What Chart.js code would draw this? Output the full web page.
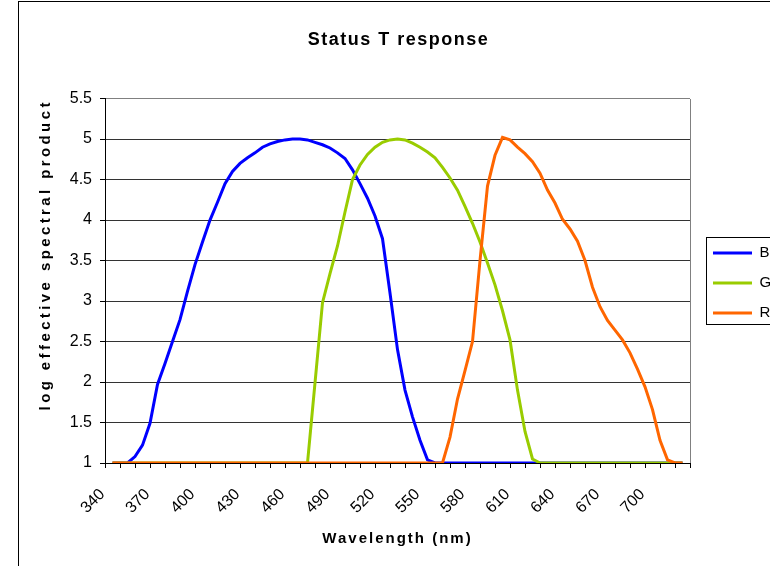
<!DOCTYPE html>
<html>
<head>
<meta charset="utf-8">
<script src="https://cdn.jsdelivr.net/npm/chart.js@4.4.1/dist/chart.umd.min.js"></script>
<style>
  html, body { margin: 0; padding: 0; background: #fff; }
  #wrap { position: relative; width: 770px; height: 566px; overflow: hidden; }
  #frame { position: absolute; left: 18px; top: 1px; width: 900px; height: 900px; border: 1px solid #000; }
  canvas { position: absolute; left: 0; top: 0; }
</style>
</head>
<body>
<div id="wrap">
  <div id="frame"></div>
  <canvas id="statusChart" width="770" height="566"></canvas>
</div>
<script>
// wavelength in nm, one point every 5 nm
const wavelengths = [340, 345, 350, 355, 360, 365, 370, 375, 380, 385, 390, 395, 400, 405, 410, 415, 420, 425, 430, 435,
  440, 445, 450, 455, 460, 465, 470, 475, 480, 485, 490, 495, 500, 505, 510, 515, 520, 525, 530, 535,
  540, 545, 550, 555, 560, 565, 570, 575, 580, 585, 590, 595, 600, 605, 610, 615, 620, 625, 630, 635,
  640, 645, 650, 655, 660, 665, 670, 675, 680, 685, 690, 695, 700, 705, 710, 715, 720];

const blueValues = [1, 1, 1, 1.08, 1.22, 1.49, 1.97, 2.23, 2.5, 2.77, 3.12, 3.45, 3.73, 4.0, 4.22, 4.45, 4.6, 4.7, 4.77, 4.83,
  4.9, 4.94, 4.97, 4.99, 5.0, 5.0, 4.99, 4.96, 4.93, 4.89, 4.83, 4.76, 4.62, 4.45, 4.27, 4.05, 3.77, 3.1, 2.4, 1.9,
  1.57, 1.28, 1.04, 1, 1, 1, 1, 1, 1, 1, 1, 1, 1, 1, 1, 1, 1, 1, 1, 1,
  1, 1, 1, 1, 1, 1, 1, 1, 1, 1, 1, 1, 1, 1, 1, 1, 1];

const greenValues = [1, 1, 1, 1, 1, 1, 1, 1, 1, 1, 1, 1, 1, 1, 1, 1, 1, 1, 1, 1,
  1, 1, 1, 1, 1, 1, 1, 1.99, 2.98, 3.34, 3.68, 4.1, 4.5, 4.68, 4.81, 4.9, 4.96, 4.99, 5.0, 4.99,
  4.95, 4.9, 4.84, 4.77, 4.65, 4.52, 4.37, 4.17, 3.96, 3.73, 3.47, 3.2, 2.88, 2.52, 1.9, 1.39, 1.05, 1, 1, 1,
  1, 1, 1, 1, 1, 1, 1, 1, 1, 1, 1, 1, 1, 1, 1, 1, 1];

const redValues = [1, 1, 1, 1, 1, 1, 1, 1, 1, 1, 1, 1, 1, 1, 1, 1, 1, 1, 1, 1,
  1, 1, 1, 1, 1, 1, 1, 1, 1, 1, 1, 1, 1, 1, 1, 1, 1, 1, 1, 1,
  1, 1, 1, 1, 1, 1.32, 1.79, 2.14, 2.5, 3.5, 4.42, 4.8, 5.02, 4.99, 4.9, 4.82, 4.72, 4.58, 4.37, 4.21,
  4.01, 3.89, 3.74, 3.5, 3.17, 2.93, 2.76, 2.64, 2.52, 2.36, 2.16, 1.94, 1.66, 1.28, 1.04, 1, 1];

const tickLabels = [340, 370, 400, 430, 460, 490, 520, 550, 580, 610, 640, 670, 700];

const FONT = "'Liberation Sans', Arial, sans-serif";

function points(values) {
  return wavelengths.map((w, i) => ({ x: w, y: values[i] }));
}

// R first so it is drawn on top, legend reversed to read B, G, R
const data = {
  datasets: [
    { label: 'R', data: points(redValues), borderColor: '#FF6600', backgroundColor: '#FF6600' },
    { label: 'G', data: points(greenValues), borderColor: '#99CC00', backgroundColor: '#99CC00' },
    { label: 'B', data: points(blueValues), borderColor: '#0000FF', backgroundColor: '#0000FF' }
  ]
};
data.datasets.forEach(ds => {
  ds.borderWidth = 3;
  ds.pointRadius = 0;
  ds.tension = 0;
  ds.fill = false;
});

// excel draws its bold titles a bit spread out
function spaced(obj, method, spacing, dx, dy) {
  if (obj['_spaced_' + method]) return;
  const draw = obj[method];
  obj[method] = function () {
    this.ctx.save();
    this.ctx.letterSpacing = spacing;
    this.ctx.translate(dx, dy);
    draw.apply(this, arguments);
    this.ctx.restore();
  };
  obj['_spaced_' + method] = true;
}

// plot border on the right, box round the legend, fixed legend width
const framePlugin = {
  id: 'framePlugin',
  afterInit(chart) {
    const lg = chart.legend;
    const fit = lg.fit;
    lg.fit = function () { fit.call(this); this.width = 80; };
    spaced(chart.titleBlock, 'draw', '1.5px', -3, 0);
  },
  afterLayout(chart) {
    chart.legend.left += 8;
    chart.legend.right += 8;
    spaced(chart.scales.x, 'drawTitle', '2px', 0, 0);
    spaced(chart.scales.y, 'drawTitle', '3.4px', 0, -26);
  },
  beforeDatasetsDraw(chart) {
    const { ctx, chartArea: a } = chart;
    const x = Math.round(a.right) + 0.5;
    ctx.save();
    ctx.strokeStyle = '#808080';
    ctx.lineWidth = 1;
    ctx.beginPath();
    ctx.moveTo(x, Math.round(a.top));
    ctx.lineTo(x, Math.round(a.bottom));
    ctx.stroke();
    ctx.restore();
  },
  afterDraw(chart) {
    const boxes = chart.legend.legendHitBoxes;
    if (!boxes || !boxes.length) return;
    const first = boxes[0];
    const last = boxes[boxes.length - 1];
    const left = Math.round(first.left) - 6.5;
    const top = Math.round(first.top) - 8.5;
    const bottom = Math.round(last.top + last.height) + 3.5;
    const ctx = chart.ctx;
    ctx.save();
    ctx.strokeStyle = '#000';
    ctx.lineWidth = 1;
    ctx.strokeRect(left, top, 200, bottom - top);
    ctx.restore();
  }
};

const options = {
  responsive: false,
  animation: false,
  layout: { padding: { left: 33, right: 0, top: 0, bottom: 0 } },
  plugins: {
    title: {
      display: true,
      text: 'Status T response',
      color: '#000',
      font: { family: FONT, size: 18, weight: 'bold' },
      padding: { top: 29, bottom: 48 }
    },
    legend: {
      position: 'right',
      reverse: true,
      labels: {
        usePointStyle: true,
        pointStyle: 'line',
        pointStyleWidth: 39,
        boxWidth: 39,
        padding: 15,
        color: '#000',
        font: { family: FONT, size: 15 }
      }
    },
    tooltip: { enabled: false }
  },
  scales: {
    x: {
      type: 'linear',
      min: 335,
      max: 725,
      afterFit: (s) => { s.height = 103; },
      afterBuildTicks: (s) => {
        const vals = [];
        for (let v = 335; v <= 725; v += 10) vals.push(v);
        tickLabels.forEach(v => vals.push(v));
        vals.sort((a, b) => a - b);
        s.ticks = vals.map(v => ({ value: v }));
      },
      ticks: {
        autoSkip: false,
        minRotation: 45,
        maxRotation: 45,
        padding: 17,
        labelOffset: -10,
        color: '#000',
        font: { family: FONT, size: 16 },
        callback: (v) => tickLabels.includes(v) ? String(v) : ''
      },
      grid: {
        drawOnChartArea: false,
        tickLength: 5,
        tickColor: (c) => (c.tick && tickLabels.includes(c.tick.value)) ? 'rgba(0,0,0,0)' : '#000'
      },
      border: { color: '#000', width: 1 },
      title: {
        display: true,
        text: 'Wavelength (nm)',
        color: '#000',
        font: { family: FONT, size: 15, weight: 'bold' },
        padding: { top: 0, bottom: 18 }
      }
    },
    y: {
      min: 1,
      max: 5.5,
      afterFit: (s) => { s.width = 72; },
      ticks: {
        stepSize: 0.5,
        padding: 8,
        color: '#000',
        font: { family: FONT, size: 16 },
        callback: (v) => String(v)
      },
      grid: {
        tickLength: 5,
        tickColor: '#000',
        color: (c) => (c.tick && c.tick.value === 5.5) ? '#808080' : '#333'
      },
      border: { color: '#000', width: 1 },
      title: {
        display: true,
        text: 'log effective spectral product',
        color: '#000',
        font: { family: FONT, size: 15, weight: 'bold' },
        padding: { top: 4, bottom: 0 }
      }
    }
  }
};

const ctx = document.getElementById('statusChart').getContext('2d');
new Chart(ctx, {
  type: 'line',
  data: data,
  options: options,
  plugins: [framePlugin]
});
</script>
</body>
</html>
